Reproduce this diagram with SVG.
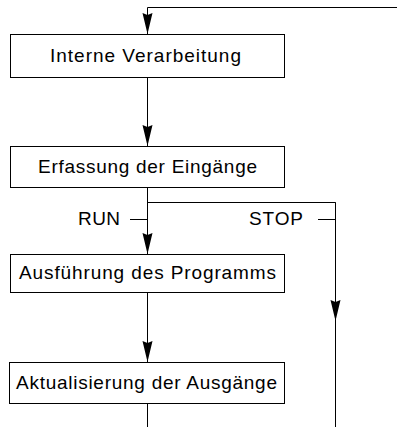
<svg xmlns="http://www.w3.org/2000/svg" width="397" height="427" viewBox="0 0 397 427">
<style>
.box{fill:#fff;stroke:#000;stroke-width:1}
.ln{fill:none;stroke:#000;stroke-width:1}
.t{font-family:"Liberation Sans",Arial,sans-serif;font-size:19px;fill:#000}
</style>
<defs>
<marker id="ah2" viewBox="0 0 21 11" refX="21" refY="5.5" markerWidth="21" markerHeight="11" markerUnits="userSpaceOnUse" orient="auto">
<path d="M0,0.5 L21,5.5 L0,10.5 L2,5.5 Z" fill="#000"/>
</marker>
</defs>
<rect width="397" height="427" fill="#fff"/>
<g id="connectors">
<path class="ln" d="M397,7.5 H147.5 V34" marker-end="url(#ah2)"/>
<path class="ln" d="M147.5,77 V146" marker-end="url(#ah2)"/>
<path class="ln" d="M147.5,187 V254" marker-end="url(#ah2)"/>
<path class="ln" d="M147.5,202.5 H335.5 V427"/>
<path class="ln" d="M335.5,202.5 V321" marker-end="url(#ah2)"/>
<path class="ln" d="M147.5,292 V362" marker-end="url(#ah2)"/>
<path class="ln" d="M147.5,403 V427"/>
<path class="ln" d="M130,219.5 H147.5"/>
<path class="ln" d="M318,219.5 H335.5"/>
<text class="t" x="78" y="225" textLength="42" lengthAdjust="spacing">RUN</text>
<text class="t" x="249" y="225" textLength="54" lengthAdjust="spacing">STOP</text>
</g>
<g id="n1">
<rect class="box" x="10.5" y="34.5" width="274" height="43"/>
<text class="t" x="50" y="62" textLength="191" lengthAdjust="spacing">Interne Verarbeitung</text>
</g>
<g id="n2">
<rect class="box" x="10.5" y="146.5" width="274" height="41"/>
<text class="t" x="38" y="173" textLength="219" lengthAdjust="spacing">Erfassung der Eingänge</text>
</g>
<g id="n3">
<rect class="box" x="10.5" y="254.5" width="274" height="38"/>
<text class="t" x="19" y="279" textLength="257" lengthAdjust="spacing">Ausführung des Programms</text>
</g>
<g id="n4">
<rect class="box" x="9.5" y="362.5" width="275" height="41"/>
<text class="t" x="16" y="389" textLength="261" lengthAdjust="spacing">Aktualisierung der Ausgänge</text>
</g>
</svg>
